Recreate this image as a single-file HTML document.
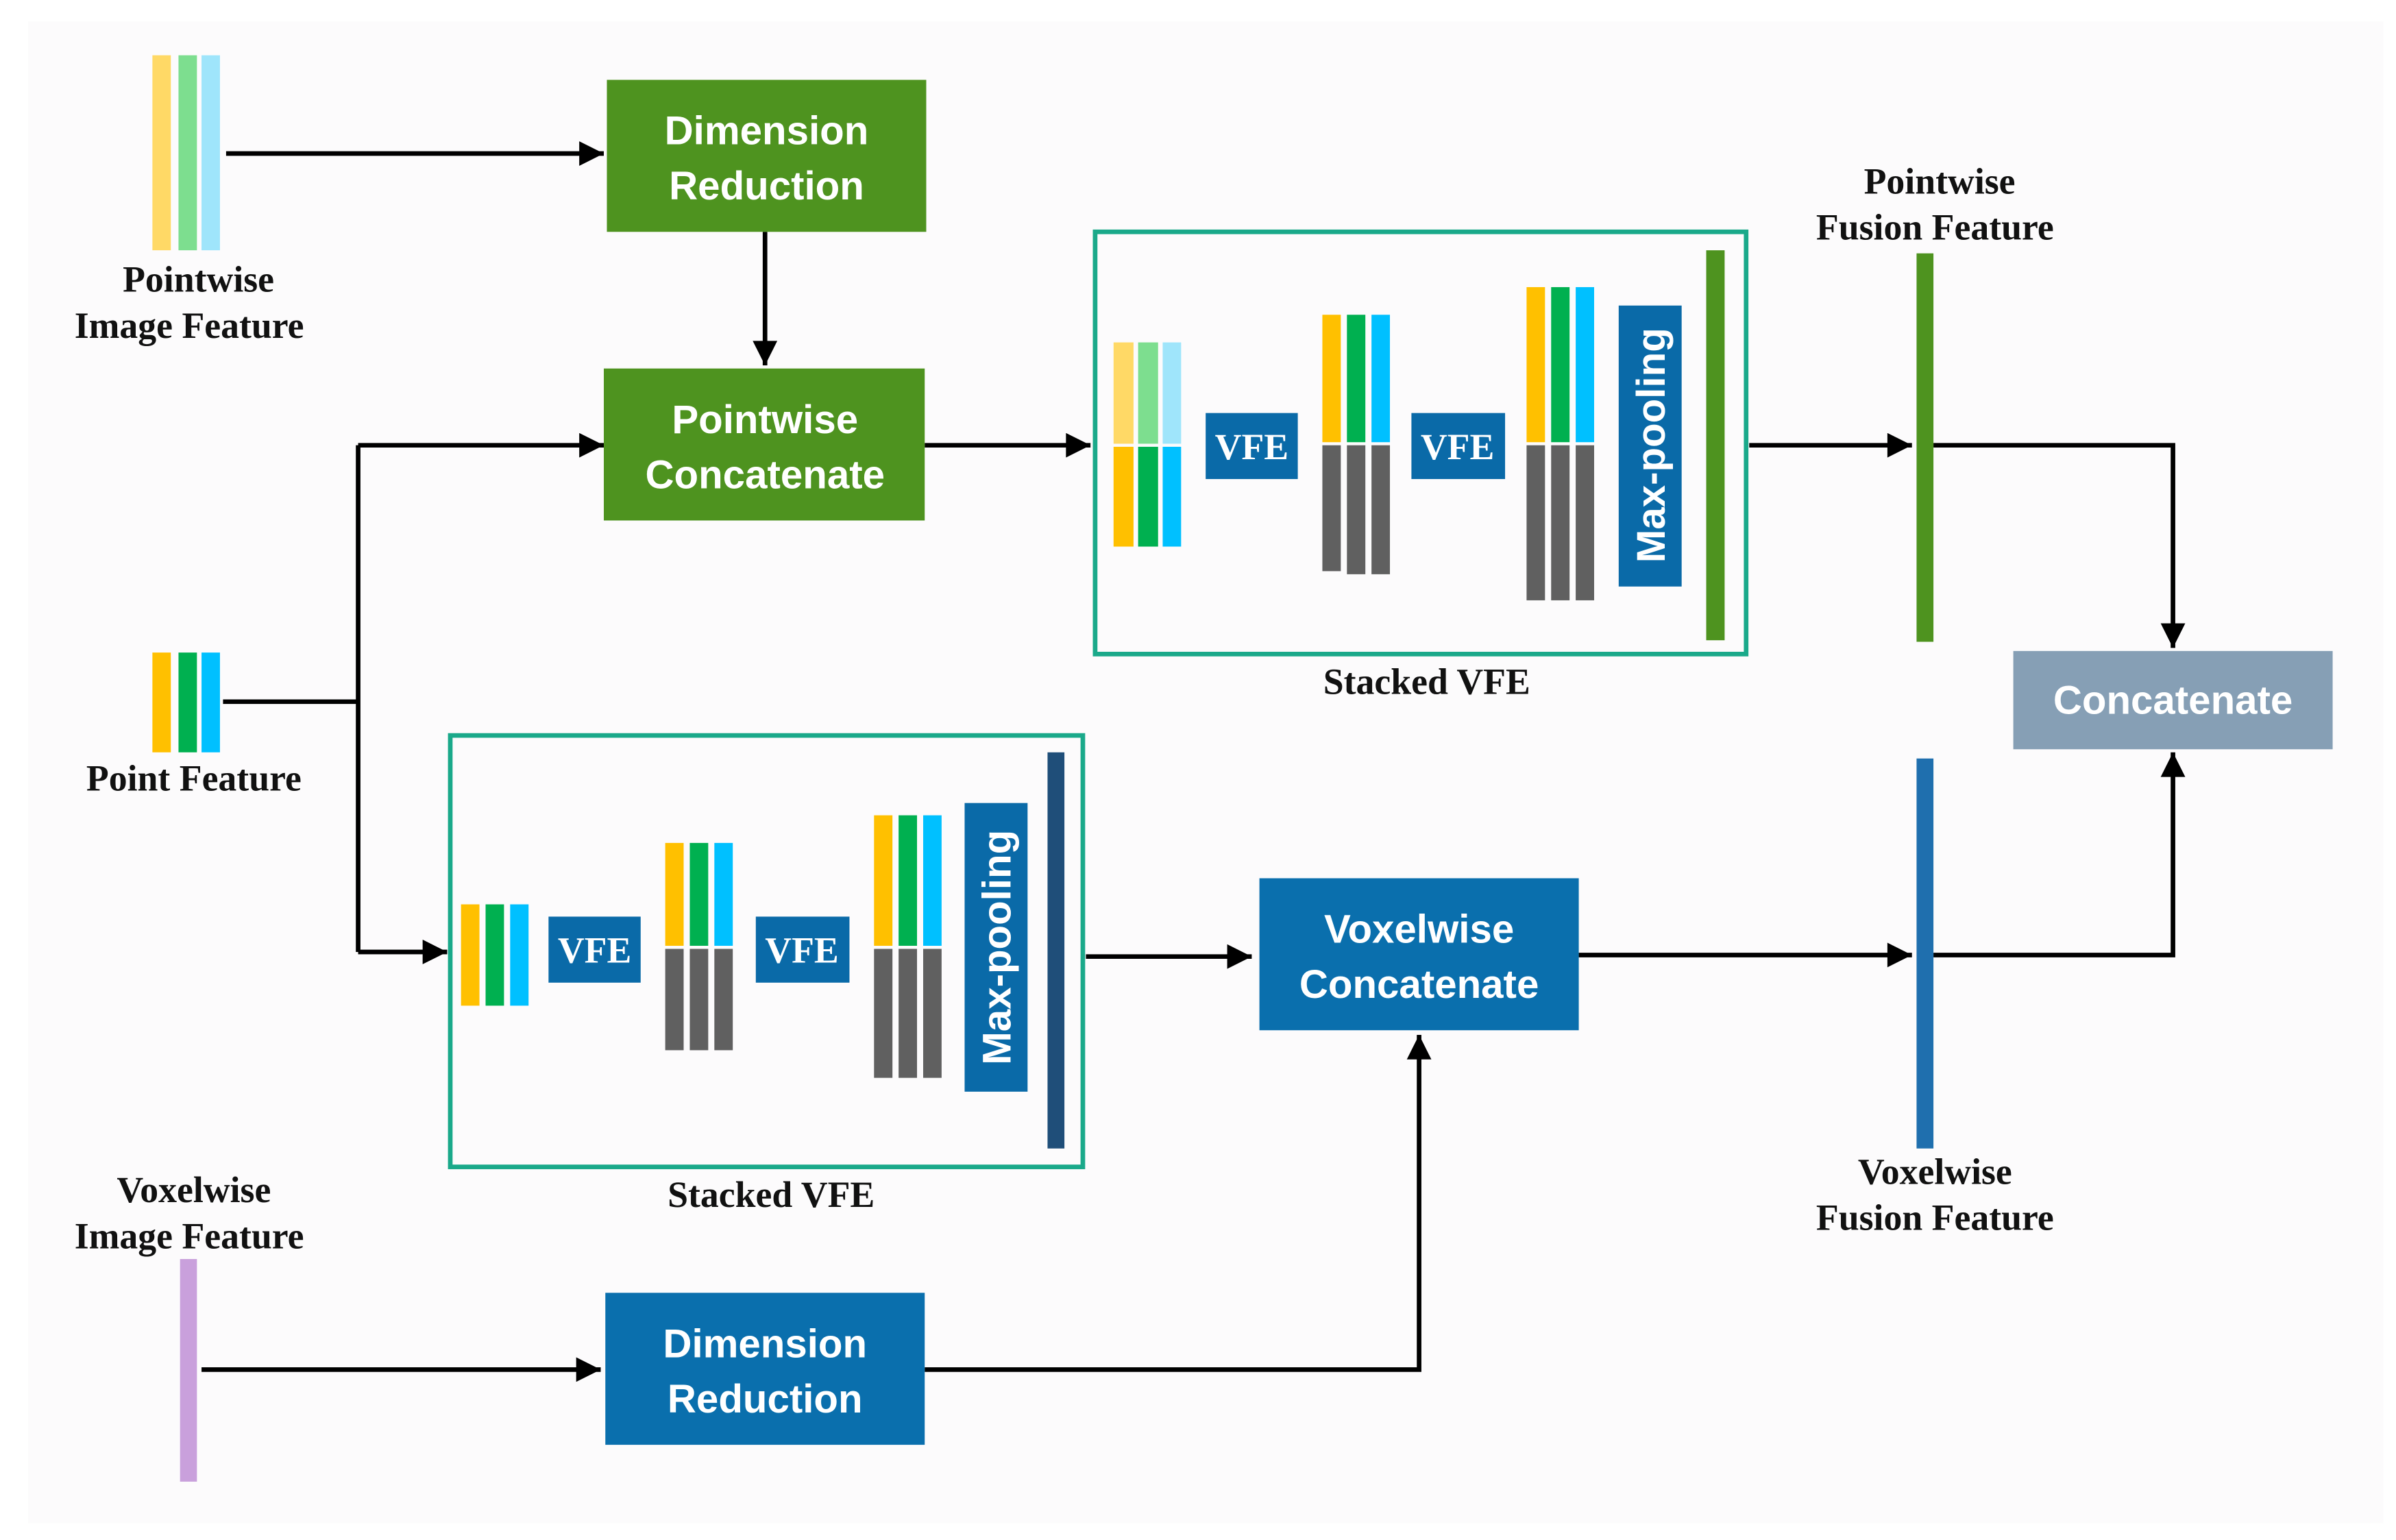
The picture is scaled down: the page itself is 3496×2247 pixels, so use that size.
<!DOCTYPE html>
<html><head><meta charset="utf-8"><style>
html,body{margin:0;padding:0;background:#fff;}
svg{display:block;}
.lbl{font-family:"Liberation Serif",serif;font-weight:bold;font-size:24px;fill:#111;text-anchor:middle;}
.bt{font-family:"Liberation Sans",sans-serif;font-weight:bold;font-size:26px;fill:#fff;text-anchor:middle;}
.vfe{font-family:"Liberation Serif",serif;font-weight:bold;font-size:24px;fill:#fff;text-anchor:middle;}
</style></head><body>
<svg width="3496" height="2247" viewBox="0 0 1560 1003" xmlns="http://www.w3.org/2000/svg">
<defs>
<marker id="b" viewBox="0 0 10 10" markerWidth="18" markerHeight="16" refX="10" refY="5" orient="auto" markerUnits="userSpaceOnUse"><path d="M0,0 L10,5 L0,10 z" fill="#000"/></marker></defs>
<rect x="0" y="0" width="1560" height="1003" fill="#fff"/>
<rect x="18" y="14" width="1534" height="978" fill="#fcfbfc"/>
<g stroke="#000" stroke-width="3" fill="none">
<path d="M147,100 H393" marker-end="url(#b)"/>
<path d="M498,151 V238" marker-end="url(#b)"/>
<path d="M602,290 H710" marker-end="url(#b)"/>
<path d="M1139,290 H1245" marker-end="url(#b)"/>
<path d="M1259,290 H1415 V422" marker-end="url(#b)"/>
<path d="M1259,622 H1415 V490" marker-end="url(#b)"/>
<path d="M145,457 H233"/>
<path d="M233,290 V620"/>
<path d="M233,290 H393" marker-end="url(#b)"/>
<path d="M233,620 H291" marker-end="url(#b)"/>
<path d="M707,623 H815" marker-end="url(#b)"/>
<path d="M1028,622 H1245" marker-end="url(#b)"/>
<path d="M131,892 H391" marker-end="url(#b)"/>
<path d="M602,892 H924 V674" marker-end="url(#b)"/>
</g>
<rect x="99" y="36" width="12" height="127" fill="#ffd966"/>
<rect x="116" y="36" width="12" height="127" fill="#7dde8f"/>
<rect x="131" y="36" width="12" height="127" fill="#9fe5fb"/>
<text class="lbl" x="129" y="190">Pointwise</text>
<text class="lbl" x="123" y="220">Image Feature</text>
<rect x="395" y="52" width="208" height="99" fill="#4e931f"/>
<text class="bt" x="499" y="94">Dimension</text><text class="bt" x="499" y="130">Reduction</text>
<rect x="393" y="240" width="209" height="99" fill="#4e931f"/>
<text class="bt" x="498" y="282">Pointwise</text><text class="bt" x="498" y="318">Concatenate</text>
<rect x="713" y="151" width="424" height="275" fill="none" stroke="#1aa98a" stroke-width="3"/>
<rect x="725" y="223" width="13" height="66" fill="#ffd966"/><rect x="741" y="223" width="13" height="66" fill="#7dde8f"/><rect x="757" y="223" width="12" height="66" fill="#9fe5fb"/>
<rect x="725" y="291" width="13" height="65" fill="#ffc000"/><rect x="741" y="291" width="13" height="65" fill="#00b050"/><rect x="757" y="291" width="12" height="65" fill="#00c0ff"/>
<rect x="785" y="269" width="60" height="43" fill="#0a6aa8"/><text class="vfe" x="815" y="299">VFE</text>
<rect x="861" y="205" width="12" height="83" fill="#ffc000"/><rect x="877" y="205" width="12" height="83" fill="#00b050"/><rect x="893" y="205" width="12" height="83" fill="#00c0ff"/>
<rect x="861" y="290" width="12" height="82" fill="#606060"/><rect x="877" y="290" width="12" height="84" fill="#606060"/><rect x="893" y="290" width="12" height="84" fill="#606060"/>
<rect x="919" y="269" width="61" height="43" fill="#0a6aa8"/><text class="vfe" x="949" y="299">VFE</text>
<rect x="994" y="187" width="12" height="101" fill="#ffc000"/><rect x="1010" y="187" width="12" height="101" fill="#00b050"/><rect x="1026" y="187" width="12" height="101" fill="#00c0ff"/>
<rect x="994" y="290" width="12" height="101" fill="#606060"/><rect x="1010" y="290" width="12" height="101" fill="#606060"/><rect x="1026" y="290" width="12" height="101" fill="#606060"/>
<rect x="1054" y="199" width="41" height="183" fill="#0a6aa8"/>
<text class="bt" transform="translate(1084,290) rotate(-90)" x="0" y="0">Max-pooling</text>
<rect x="1111" y="163" width="12" height="254" fill="#4e931f"/>
<text class="lbl" x="929" y="452">Stacked VFE</text>
<rect x="1248" y="165" width="11" height="253" fill="#4e931f"/>
<text class="lbl" x="1263" y="126">Pointwise</text>
<text class="lbl" x="1260" y="156">Fusion Feature</text>
<rect x="1311" y="424" width="208" height="64" fill="#869fb5"/>
<text class="bt" x="1415" y="465">Concatenate</text>
<rect x="1248" y="494" width="11" height="254" fill="#1f6fae"/>
<text class="lbl" x="1260" y="771">Voxelwise</text>
<text class="lbl" x="1260" y="801">Fusion Feature</text>
<rect x="99" y="425" width="12" height="65" fill="#ffc000"/><rect x="116" y="425" width="12" height="65" fill="#00b050"/><rect x="131" y="425" width="12" height="65" fill="#00c0ff"/>
<text class="lbl" x="126" y="515">Point Feature</text>
<rect x="293" y="479" width="412" height="281" fill="none" stroke="#1aa98a" stroke-width="3"/>
<rect x="300" y="589" width="12" height="66" fill="#ffc000"/><rect x="316" y="589" width="12" height="66" fill="#00b050"/><rect x="332" y="589" width="12" height="66" fill="#00c0ff"/>
<rect x="357" y="597" width="60" height="43" fill="#0a6aa8"/><text class="vfe" x="387" y="627">VFE</text>
<rect x="433" y="549" width="12" height="67" fill="#ffc000"/><rect x="449" y="549" width="12" height="67" fill="#00b050"/><rect x="465" y="549" width="12" height="67" fill="#00c0ff"/>
<rect x="433" y="618" width="12" height="66" fill="#606060"/><rect x="449" y="618" width="12" height="66" fill="#606060"/><rect x="465" y="618" width="12" height="66" fill="#606060"/>
<rect x="492" y="597" width="61" height="43" fill="#0a6aa8"/><text class="vfe" x="522" y="627">VFE</text>
<rect x="569" y="531" width="12" height="85" fill="#ffc000"/><rect x="585" y="531" width="12" height="85" fill="#00b050"/><rect x="601" y="531" width="12" height="85" fill="#00c0ff"/>
<rect x="569" y="618" width="12" height="84" fill="#606060"/><rect x="585" y="618" width="12" height="84" fill="#606060"/><rect x="601" y="618" width="12" height="84" fill="#606060"/>
<rect x="628" y="523" width="41" height="188" fill="#0a6aa8"/>
<text class="bt" transform="translate(658,617) rotate(-90)" x="0" y="0">Max-pooling</text>
<rect x="682" y="490" width="11" height="258" fill="#1f4e79"/>
<text class="lbl" x="502" y="786">Stacked VFE</text>
<rect x="820" y="572" width="208" height="99" fill="#0a6fad"/>
<text class="bt" x="924" y="614">Voxelwise</text><text class="bt" x="924" y="650">Concatenate</text>
<text class="lbl" x="126" y="783">Voxelwise</text>
<text class="lbl" x="123" y="813">Image Feature</text>
<rect x="117" y="820" width="11" height="145" fill="#c9a0dc"/>
<rect x="394" y="842" width="208" height="99" fill="#0a6fad"/>
<text class="bt" x="498" y="884">Dimension</text><text class="bt" x="498" y="920">Reduction</text>
</svg>
</body></html>
